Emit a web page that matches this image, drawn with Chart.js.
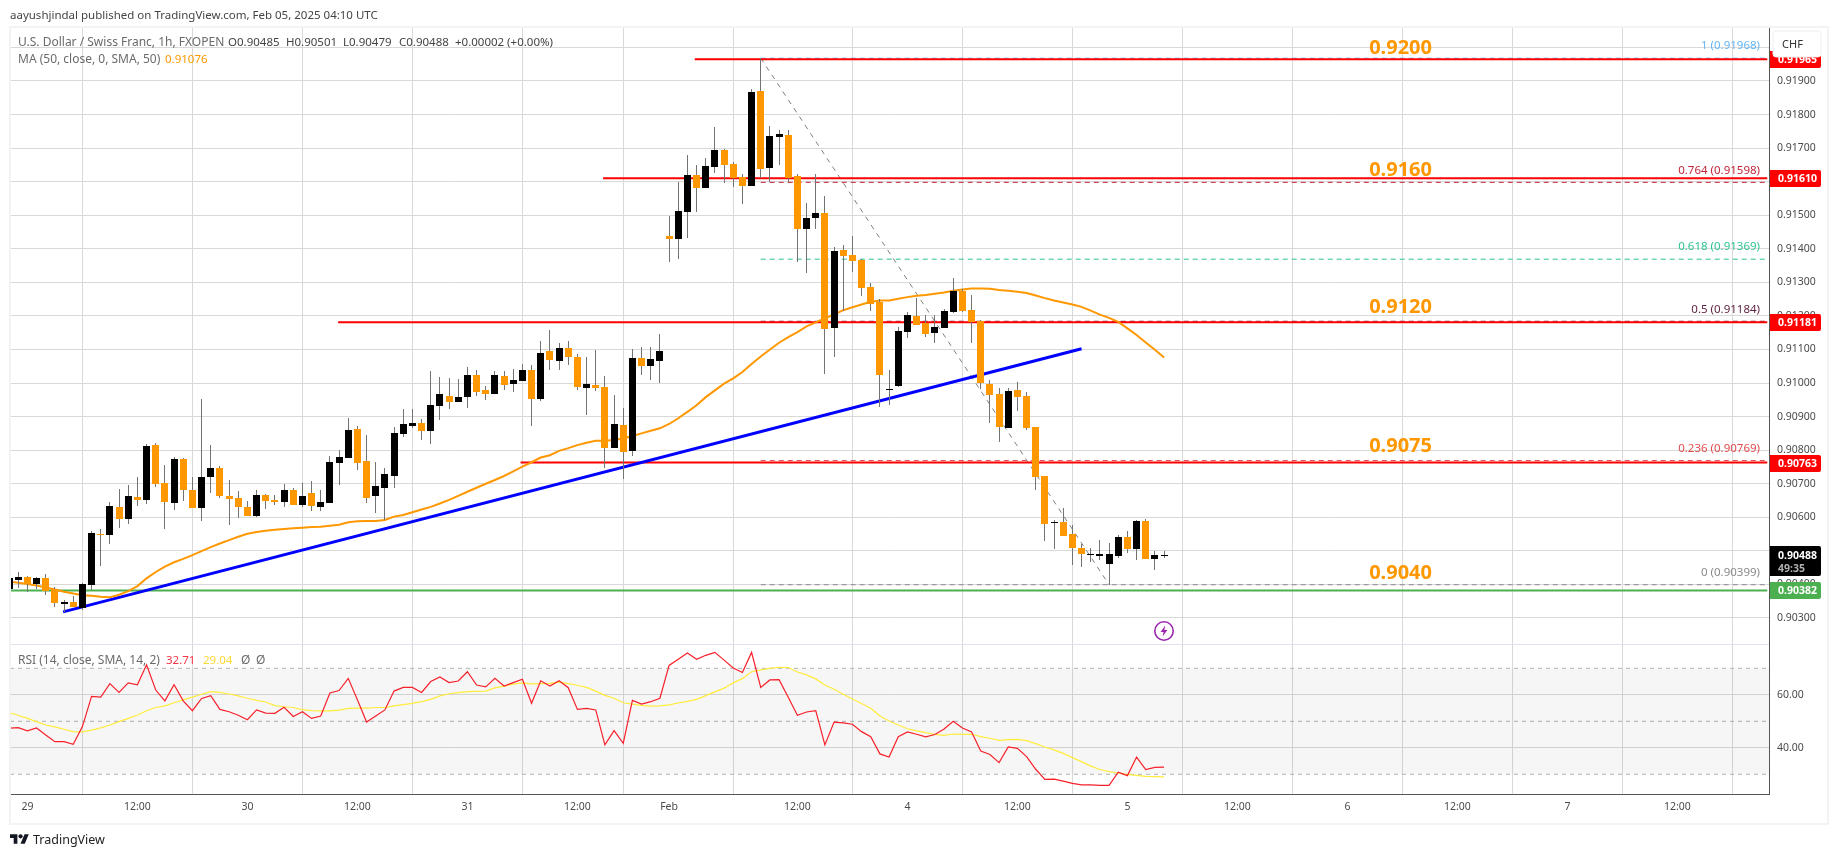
<!DOCTYPE html>
<html>
<head>
<meta charset="utf-8">
<title>USDCHF</title>
<script src="https://cdn.jsdelivr.net/npm/chart.js@4"></script>
<style>
  html, body { margin: 0; padding: 0; background: #fff; }
  body { width: 1835px; height: 857px; position: relative; overflow: hidden; font-family: "Noto Sans", sans-serif; }
  canvas { position: absolute; left: 0; top: 0; }
  .txt { position: absolute; white-space: nowrap; font-size: 12px; line-height: 16px; color: #6a6a6a; }
  .num { font-size: 11.5px; }
  .dark { color: #444; }
  .frame { position: absolute; left: 9px; top: 26px; width: 1816px; height: 795px; border: 2px solid #f3f3f3; pointer-events: none; }
</style>
</head>
<body>
<canvas id="myChart" width="1835" height="857"></canvas>
<div class="frame"></div>

<div class="txt dark" style="left:10px;top:7px;font-size:11.5px">aayushjindal published on TradingView.com, Feb 05, 2025 04:10 UTC</div>
<div class="txt" style="left:18px;top:34px">U.S. Dollar / Swiss Franc, 1h, FXOPEN</div>
<div class="txt dark num" style="left:228px;top:34px">O0.90485</div>
<div class="txt dark num" style="left:286px;top:34px">H0.90501</div>
<div class="txt dark num" style="left:343px;top:34px">L0.90479</div>
<div class="txt dark num" style="left:399px;top:34px">C0.90488</div>
<div class="txt dark num" style="left:455px;top:34px">+0.00002 (+0.00%)</div>
<div class="txt" style="left:18px;top:51px">MA (50, close, 0, SMA, 50)</div>
<div class="txt num" style="left:165px;top:51px;color:#ff9800">0.91076</div>
<div class="txt" style="left:18px;top:652px">RSI (14, close, SMA, 14, 2)</div>
<div class="txt num" style="left:166px;top:652px;color:#f23645">32.71</div>
<div class="txt num" style="left:203px;top:652px;color:#fdd835">29.04</div>
<div class="txt" style="left:241px;top:652px">Ø</div>
<div class="txt" style="left:256px;top:652px">Ø</div>

<svg style="position:absolute;left:10px;top:834px" width="19" height="10" viewBox="0 4 36 18">
  <path d="M14 22H7V11H0V4h14v18zM28 22h-8l7.5-18h8L28 22z" fill="#131722"/>
  <circle cx="20" cy="8" r="4" fill="#131722"/>
</svg>
<div class="txt dark" style="left:33px;top:831px;font-size:12.5px;line-height:18px;color:#222">TradingView</div>

<svg style="position:absolute;left:1153px;top:620px" width="22" height="22" viewBox="0 0 22 22">
  <circle cx="11" cy="11" r="9.2" fill="#fff" stroke="#9c27b0" stroke-width="1.6"/>
  <path d="M12.2 5.5L7.6 12h3l-1 4.5 4.8-6.6h-3z" fill="#9c27b0"/>
</svg>

<script>
// one bar per hour, first bar is clipped at the left edge of the panel
var firstBar = -2;

var opens = [
  0.90387,0.90413,0.90422,0.90401,0.90419,0.90387,0.90341,0.90347,0.90329,0.90398,
  0.90550,0.90547,0.90630,0.90595,0.90660,0.90651,0.90815,0.90702,0.90642,0.90773,
  0.90681,0.90627,0.90720,0.90747,0.90663,0.90657,0.90630,0.90604,0.90666,0.90651,
  0.90645,0.90681,0.90636,0.90672,0.90630,0.90642,0.90761,0.90776,0.90863,0.90767,
  0.90663,0.90687,0.90723,0.90848,0.90872,0.90881,0.90857,0.90931,0.90961,0.90943,
  0.90958,0.91024,0.90979,0.90967,0.91021,0.90997,0.91006,0.91039,0.90952,0.91095,
  0.91065,0.91104,0.91077,0.90985,0.90994,0.90988,0.90806,0.90875,0.90797,0.91074,
  0.91050,0.91065,0.91439,0.91430,0.91511,0.91621,0.91582,0.91645,0.91695,0.91654,
  0.91615,0.91588,0.91871,0.91642,0.91734,0.91740,0.91618,0.91460,0.91493,0.91508,
  0.91165,0.91397,0.91383,0.91368,0.91287,0.91240,0.90980,0.90992,0.91153,0.91201,
  0.91180,0.91150,0.91165,0.91213,0.91275,0.91219,0.91184,0.90997,0.90967,0.90866,
  0.90979,0.90961,0.90869,0.90723,0.90583,0.90586,0.90550,0.90508,0.90487,0.90484,
  0.90461,0.90484,0.90541,0.90505,0.90589,0.90476,0.90485
];
var highs = [
  0.90420,0.90437,0.90425,0.90422,0.90431,0.90391,0.90353,0.90365,0.90404,0.90559,
  0.90565,0.90645,0.90684,0.90696,0.90720,0.90818,0.90821,0.90755,0.90779,0.90776,
  0.90720,0.90952,0.90815,0.90752,0.90711,0.90678,0.90648,0.90681,0.90669,0.90666,
  0.90699,0.90687,0.90702,0.90708,0.90681,0.90782,0.90800,0.90895,0.90872,0.90845,
  0.90764,0.90747,0.90869,0.90922,0.90922,0.90893,0.91036,0.91018,0.91015,0.91012,
  0.91047,0.91039,0.90991,0.91036,0.91036,0.91042,0.91056,0.91053,0.91125,0.91158,
  0.91119,0.91125,0.91086,0.91077,0.91098,0.91021,0.90964,0.90925,0.91101,0.91107,
  0.91107,0.91146,0.91499,0.91600,0.91680,0.91651,0.91671,0.91764,0.91698,0.91660,
  0.91624,0.91877,0.91968,0.91767,0.91755,0.91755,0.91624,0.91537,0.91624,0.91558,
  0.91406,0.91412,0.91439,0.91371,0.91299,0.91251,0.91038,0.91168,0.91213,0.91254,
  0.91204,0.91204,0.91222,0.91314,0.91281,0.91263,0.91187,0.91009,0.90985,0.90985,
  0.91003,0.90973,0.90869,0.90723,0.90592,0.90627,0.90577,0.90520,0.90508,0.90532,
  0.90523,0.90547,0.90559,0.90592,0.90595,0.90499,0.90501
];
var lows = [
  0.90385,0.90390,0.90378,0.90387,0.90368,0.90332,0.90319,0.90332,0.90324,0.90384,
  0.90455,0.90520,0.90568,0.90580,0.90633,0.90639,0.90690,0.90565,0.90621,0.90648,
  0.90627,0.90589,0.90672,0.90657,0.90577,0.90598,0.90604,0.90601,0.90624,0.90636,
  0.90630,0.90636,0.90630,0.90618,0.90618,0.90642,0.90696,0.90776,0.90741,0.90642,
  0.90612,0.90592,0.90687,0.90839,0.90866,0.90830,0.90818,0.90890,0.90922,0.90943,
  0.90925,0.90961,0.90949,0.90967,0.90979,0.90973,0.91006,0.90872,0.90946,0.91039,
  0.91039,0.91053,0.90979,0.90904,0.90976,0.90747,0.90806,0.90714,0.90782,0.91024,
  0.91009,0.91000,0.91362,0.91371,0.91433,0.91511,0.91582,0.91627,0.91597,0.91585,
  0.91534,0.91588,0.91612,0.91600,0.91651,0.91600,0.91362,0.91329,0.91460,0.91028,
  0.91079,0.91216,0.91332,0.91260,0.91216,0.90928,0.90934,0.90989,0.91135,0.91174,
  0.91138,0.91120,0.91165,0.91210,0.91213,0.91120,0.90982,0.90881,0.90824,0.90866,
  0.90916,0.90860,0.90681,0.90529,0.90505,0.90544,0.90458,0.90452,0.90467,0.90473,
  0.90399,0.90478,0.90493,0.90473,0.90476,0.90443,0.90479
];
var closes = [
  0.90418,0.90422,0.90402,0.90419,0.90381,0.90345,0.90347,0.90332,0.90401,0.90553,
  0.90547,0.90633,0.90595,0.90663,0.90651,0.90812,0.90699,0.90645,0.90773,0.90681,
  0.90627,0.90720,0.90747,0.90663,0.90654,0.90630,0.90604,0.90666,0.90648,0.90645,
  0.90681,0.90636,0.90663,0.90633,0.90645,0.90764,0.90779,0.90860,0.90761,0.90657,
  0.90693,0.90729,0.90851,0.90878,0.90881,0.90857,0.90934,0.90967,0.90943,0.90958,
  0.91024,0.90973,0.90967,0.91024,0.90994,0.91009,0.91039,0.90952,0.91089,0.91068,
  0.91104,0.91077,0.90988,0.90997,0.90985,0.90806,0.90878,0.90794,0.91074,0.91050,
  0.91071,0.91095,0.91430,0.91514,0.91621,0.91582,0.91648,0.91695,0.91651,0.91612,
  0.91588,0.91868,0.91639,0.91737,0.91743,0.91612,0.91460,0.91493,0.91508,0.91162,
  0.91394,0.91380,0.91365,0.91284,0.91237,0.91024,0.90982,0.91156,0.91204,0.91174,
  0.91147,0.91168,0.91216,0.91275,0.91216,0.91183,0.91000,0.90964,0.90869,0.90976,
  0.90958,0.90866,0.90720,0.90580,0.90586,0.90544,0.90508,0.90490,0.90490,0.90490,
  0.90490,0.90541,0.90505,0.90589,0.90476,0.90487,0.90488
];
var maValues = [
  0.90408,0.90405,0.90401,0.90397,0.90391,0.90385,0.90378,0.90373,0.90368,0.90366,
  0.90363,0.90362,0.90369,0.90380,0.90395,0.90418,0.90437,0.90453,0.90466,0.90476,
  0.90487,0.90499,0.90511,0.90522,0.90532,0.90542,0.90551,0.90556,0.90560,0.90563,
  0.90565,0.90567,0.90569,0.90571,0.90572,0.90575,0.90578,0.90585,0.90588,0.90589,
  0.90589,0.90592,0.90602,0.90607,0.90615,0.90623,0.90631,0.90641,0.90652,0.90664,
  0.90676,0.90688,0.90700,0.90711,0.90723,0.90737,0.90751,0.90764,0.90778,0.90785,
  0.90798,0.90806,0.90815,0.90822,0.90828,0.90828,0.90830,0.90835,0.90842,0.90850,
  0.90858,0.90865,0.90878,0.90895,0.90914,0.90934,0.90958,0.90978,0.90998,0.91014,
  0.91033,0.91057,0.91079,0.91100,0.91120,0.91137,0.91152,0.91169,0.91181,0.91193,
  0.91204,0.91217,0.91226,0.91234,0.91242,0.91246,0.91246,0.91251,0.91256,0.91260,
  0.91262,0.91266,0.91270,0.91275,0.91279,0.91282,0.91282,0.91281,0.91277,0.91275,
  0.91272,0.91268,0.91261,0.91253,0.91246,0.91240,0.91234,0.91227,0.91216,0.91204,
  0.91194,0.91182,0.91163,0.91143,0.91121,0.91099,0.91076
];
var rsiValues = [
  47.4,47.6,46.4,47.5,44.8,42.3,42.3,41.3,48.0,59.4,59.1,64.2,60.9,64.5,63.8,71.3,
  61.8,57.7,63.8,57.7,54.0,58.6,59.7,54.5,53.6,52.3,50.6,54.3,53.1,53.0,55.3,51.8,
  53.6,51.1,52.0,60.7,61.6,66.2,58.1,49.7,52.0,54.3,61.4,62.8,62.8,60.9,65.0,66.7,
  64.6,65.2,68.7,63.7,63.0,66.2,63.3,64.6,65.9,56.8,65.3,63.3,65.3,62.7,54.5,54.9,
  54.3,41.1,46.5,41.7,57.9,56.5,57.4,58.7,71.1,73.4,75.8,73.4,74.9,76.0,73.1,70.1,
  68.4,76.0,62.8,65.6,65.7,59.1,52.3,53.5,54.0,41.1,49.7,49.4,48.9,46.1,44.2,37.7,
  36.5,44.2,46.0,45.1,44.1,45.0,47.1,50.0,47.5,46.0,38.8,37.5,34.4,40.3,39.8,36.7,
  31.9,28.1,28.2,27.4,26.6,26.0,26.0,25.8,25.8,30.8,29.5,36.5,31.8,32.6,32.71
];
var rsiMaValues = [
  53.3,52.3,51.1,49.9,48.6,47.9,47.0,46.1,46.0,46.7,47.5,48.6,49.9,51.1,52.4,54.0,
  55.2,55.8,57.0,58.1,59.1,60.2,61.2,60.9,60.3,59.6,58.7,57.9,57.3,55.9,55.5,55.2,
  54.4,54.0,53.9,53.9,54.2,54.9,55.0,55.0,55.2,55.2,55.8,56.3,56.8,57.4,58.3,59.6,
  60.4,60.8,61.2,61.3,61.4,62.6,63.3,64.0,64.5,64.1,64.2,64.3,64.8,64.2,63.6,62.8,
  61.4,59.8,58.7,57.0,56.5,56.0,55.7,55.8,56.2,56.9,57.5,58.3,59.7,61.1,62.5,64.5,
  66.1,68.7,69.4,70.0,70.4,70.3,68.6,67.5,66.0,63.7,62.1,60.2,58.4,56.7,54.9,52.0,
  50.1,48.6,47.2,46.4,45.7,45.1,44.7,45.2,45.1,45.1,44.2,43.6,42.8,43.1,43.2,42.7,
  41.6,40.3,39.2,37.9,36.3,34.8,33.1,31.8,31.0,30.5,30.0,29.6,29.2,29.1,29.04
];

var timeTickBars = [0,12,24,36,48,60,70,84,96,108,120,132,144,156,168,180];
var timeTickLabels = ["29","12:00","30","12:00","31","12:00","Feb","12:00","4","12:00","5","12:00","6","12:00","7","12:00"];
var priceTicks = [0.920,0.919,0.918,0.917,0.916,0.915,0.914,0.913,0.912,0.911,0.910,0.909,0.908,0.907,0.906,0.905,0.904,0.903];
var rsiTicks = [60,40];
var rsiLevels = [70,50,30];

var resistancePrices = [0.91965,0.91610,0.91181,0.90763];
var resistanceStarts = [72.8,62.8,33.9,53.8];
var supportPrice = 0.90382;
var targetLabels = ["0.9200","0.9160","0.9120","0.9075","0.9040"];
var targetPrices = [0.92001,0.91639,0.91229,0.90816,0.90437];
var fibRatios = ["1","0.764","0.618","0.5","0.236","0"];
var fibPrices = [0.91968,0.91598,0.91369,0.91184,0.90769,0.90399];
var fibColors = ["#64b5f6","#c2253a","#2fc38f","#5d1f3f","#e04c4c","#8a8a8a"];
var trendBars = [3.9,115];
var trendPrices = [0.90318,0.91102];
var fibBars = [80,118];

// scale ranges, picked so the panes land where the screenshot has them
var xMin = -1.898, xMax = 189.99;
var priceMin = 0.902224, priceMax = 0.920609;
var rsiMin = 22.57, rsiMax = 79.17;
var GREY = "#4a4a4a", ORANGE = "#ff9800", FONT = '"Noto Sans", sans-serif';

function horizontal(label, price, startBar, color, width, dash) {
  return {
    type: "line", label: label, yAxisID: "y", order: 5,
    data: [{x: startBar, y: price}, {x: 189.8, y: price}],
    borderColor: color, borderWidth: width, borderDash: dash || [], pointRadius: 0
  };
}

var datasets = [];

// candles, bodies over wicks over everything else
datasets.push({
  label: "body", order: 0, barThickness: 7, inflateAmount: 0, grouped: false, borderWidth: 0,
  data: opens.map(function (o, i) { return {x: i + firstBar, y: [o, closes[i]]}; }),
  backgroundColor: opens.map(function (o, i) { return closes[i] >= o ? "#000000" : ORANGE; })
});
datasets.push({
  label: "wick", order: 1, barThickness: 1, inflateAmount: 0, grouped: false, borderWidth: 0,
  data: lows.map(function (l, i) { return {x: i + firstBar, y: [l, highs[i]]}; }),
  backgroundColor: "#737373"
});
datasets.push({
  type: "line", label: "MA", order: 2, yAxisID: "y", borderColor: ORANGE, borderWidth: 2, pointRadius: 0,
  data: maValues.map(function (v, i) { return {x: i + firstBar, y: v}; })
});
datasets.push({
  type: "line", label: "trend", order: 3, yAxisID: "y", borderColor: "#0000ff", borderWidth: 3, pointRadius: 0,
  data: trendBars.map(function (b, i) { return {x: b, y: trendPrices[i]}; })
});
resistancePrices.forEach(function (p, i) {
  datasets.push(horizontal("res" + i, p, resistanceStarts[i], "#ff0000", 2));
});
datasets.push(horizontal("support", supportPrice, xMin, "#4caf50", 2));
fibPrices.forEach(function (p, i) {
  var s = horizontal("fib" + fibRatios[i], p, fibBars[0], fibColors[i], 1, [5, 4]);
  s.order = 6;
  datasets.push(s);
});
datasets.push({
  type: "line", label: "fibTrend", order: 6, yAxisID: "y", borderColor: "#7f7f7f", borderWidth: 1,
  borderDash: [5, 5], pointRadius: 0,
  data: fibBars.map(function (b, i) { return {x: b, y: i == 0 ? fibPrices[0] : fibPrices[5]}; })
});

// RSI pane
datasets.push({
  type: "line", label: "RSI", order: 2, yAxisID: "yRsi", borderColor: "#f7202a", borderWidth: 1.2, pointRadius: 0,
  data: rsiValues.map(function (v, i) { return {x: i + firstBar, y: v}; })
});
datasets.push({
  type: "line", label: "RSI MA", order: 3, yAxisID: "yRsi", borderColor: "#ffeb3b", borderWidth: 1.2, pointRadius: 0,
  data: rsiMaValues.map(function (v, i) { return {x: i + firstBar, y: v}; })
});
rsiLevels.forEach(function (level, i) {
  datasets.push({
    type: "line", label: "level" + level, order: 7, yAxisID: "yRsi",
    borderColor: "#b4b4b4", borderWidth: 1, borderDash: [4, 4], pointRadius: 0,
    fill: i == 0 ? {target: {value: rsiLevels[2]}} : false,
    backgroundColor: "rgba(0,0,0,0.035)",
    data: [{x: xMin, y: level}, {x: xMax, y: level}]
  });
});

// keeps candles on whole pixels, like the original
var snapBars = {
  id: "snapBars",
  beforeDatasetsDraw: function (chart) {
    chart.getSortedVisibleDatasetMetas().forEach(function (meta) {
      if (meta.type != "bar") return;
      meta.data.forEach(function (el) {
        el.x = Math.floor(el.x) + 0.5;
        el.y = Math.round(el.y);
        el.base = Math.round(el.base);
        if (el.base == el.y) el.base = el.y + 1;
      });
    });
  }
};

function tag(ctx, top, height, color, text, textY) {
  ctx.fillStyle = color;
  ctx.beginPath();
  ctx.roundRect(1770, top, 51, height, [0, 2, 2, 0]);
  ctx.fill();
  ctx.fillStyle = "#fff";
  ctx.font = "bold 10.5px " + FONT;
  ctx.textAlign = "left";
  ctx.textBaseline = "middle";
  ctx.fillText(text, 1778, textY);
}

var annotations = {
  id: "annotations",
  afterDraw: function (chart) {
    var ctx = chart.ctx, y = chart.scales.y, x = chart.scales.x;
    ctx.save();
    ctx.textBaseline = "middle";

    // big target levels
    ctx.font = "bold 20px " + FONT;
    ctx.textAlign = "center";
    ctx.fillStyle = ORANGE;
    targetLabels.forEach(function (t, i) {
      ctx.fillText(t, x.getPixelForValue(149.8), y.getPixelForValue(targetPrices[i]) + 1.5);
    });

    // fib labels, sitting just over their lines
    ctx.font = "11.5px " + FONT;
    ctx.textAlign = "right";
    fibRatios.forEach(function (r, i) {
      ctx.fillStyle = fibColors[i];
      ctx.fillText(r + " (" + fibPrices[i].toFixed(5) + ")", 1760, y.getPixelForValue(fibPrices[i]) - 12);
    });

    // price tags on the axis
    resistancePrices.forEach(function (p) {
      var py = y.getPixelForValue(p);
      tag(ctx, Math.round(py) - 8, 17, "#ff0000", p.toFixed(5), py + 1);
    });
    var sy = y.getPixelForValue(supportPrice);
    tag(ctx, Math.round(sy) - 8, 17, "#4caf50", supportPrice.toFixed(5), sy + 1);
    var cy = y.getPixelForValue(closes[closes.length - 1]);
    tag(ctx, Math.round(cy) - 9, 30, "#000000", closes[closes.length - 1].toFixed(5), cy + 1);
    ctx.fillStyle = "#b0b0b0";
    ctx.font = "bold 10.5px " + FONT;
    ctx.fillText("49:35", 1778, cy + 14);

    // currency button covers the first tag
    ctx.fillStyle = "#fff";
    ctx.strokeStyle = "#eeeeee";
    ctx.beginPath();
    ctx.roundRect(1773, 31, 48, 26, 3);
    ctx.fill();
    ctx.stroke();
    ctx.fillStyle = "#333";
    ctx.font = "11px " + FONT;
    ctx.textAlign = "center";
    ctx.fillText("CHF", 1792.5, 45);
    ctx.restore();
  }
};

new Chart(document.getElementById("myChart").getContext("2d"), {
  type: "bar",
  data: {datasets: datasets},
  plugins: [snapBars, annotations],
  options: {
    responsive: false,
    animation: false,
    devicePixelRatio: 1,
    parsing: {xAxisKey: "x", yAxisKey: "y"},
    layout: {padding: {left: 10, top: 27, right: 0, bottom: 0}},
    plugins: {legend: {display: false}, tooltip: {enabled: false}},
    scales: {
      x: {
        type: "linear", min: xMin, max: xMax, offset: false, stacked: false,
        afterFit: function (scale) { scale.height = 63; },
        afterBuildTicks: function (scale) {
          scale.ticks = timeTickBars.map(function (b) { return {value: b}; });
        },
        grid: {color: "#d9d9d9", lineWidth: 1, drawTicks: false},
        border: {display: true, color: "#555", width: 1},
        ticks: {
          autoSkip: false, maxRotation: 0, padding: 7, color: GREY, font: {family: FONT, size: 10.5},
          callback: function (value) { return timeTickLabels[timeTickBars.indexOf(value)]; }
        }
      },
      y: {
        type: "linear", position: "right", stack: "panes", stackWeight: 617,
        min: priceMin, max: priceMax,
        afterFit: function (scale) { scale.width = 66; },
        afterBuildTicks: function (scale) {
          scale.ticks = [priceMin].concat(priceTicks).map(function (v) { return {value: v}; });
        },
        grid: {
          drawTicks: false, lineWidth: 1,
          color: function (c) { return c.tick.value == priceMin ? "#e0e3eb" : "#d9d9d9"; }
        },
        border: {display: true, color: "#555", width: 1},
        ticks: {
          autoSkip: false, padding: 8, color: GREY, font: {family: FONT, size: 10.5},
          callback: function (value) { return value == priceMin ? "" : value.toFixed(5); }
        }
      },
      yRsi: {
        type: "linear", position: "right", stack: "panes", stackWeight: 150,
        min: rsiMin, max: rsiMax,
        afterFit: function (scale) { scale.width = 66; },
        afterBuildTicks: function (scale) {
          scale.ticks = rsiTicks.map(function (v) { return {value: v}; });
        },
        grid: {drawTicks: false, color: "#d9d9d9", lineWidth: 1},
        border: {display: true, color: "#555", width: 1},
        ticks: {
          autoSkip: false, padding: 8, color: GREY, font: {family: FONT, size: 10.5},
          callback: function (value) { return value.toFixed(2); }
        }
      }
    }
  }
});
</script>
</body>
</html>
